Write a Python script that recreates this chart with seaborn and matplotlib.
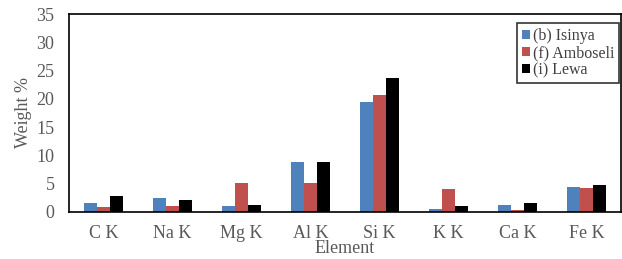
import matplotlib
matplotlib.use("Agg")
import matplotlib.pyplot as plt
import seaborn as sns
import pandas as pd
import numpy as np

elements = ["C K", "Na K", "Mg K", "Al K", "Si K", "K K", "Ca K", "Fe K"]
isinya = [1.6, 2.4, 1.0, 8.9, 19.4, 0.6, 1.2, 4.4]
amboseli = [0.9, 1.0, 5.1, 5.1, 20.6, 4.0, 0.3, 4.2]
lewa = [2.9, 2.2, 1.2, 8.9, 23.7, 1.0, 1.6, 4.7]
series = ["(b) Isinya", "(f) Amboseli", "(i) Lewa"]
colors = ["#4F81BD", "#C0504D", "#000000"]

df = pd.DataFrame({
    "Element": elements * 3,
    "Weight": isinya + amboseli + lewa,
    "Site": [series[0]] * 8 + [series[1]] * 8 + [series[2]] * 8,
})

sns.set_style("white")
plt.rcParams["font.family"] = ["Liberation Serif", "DejaVu Serif"]

fs = 13
fig = plt.figure(figsize=(6.22, 2.59), dpi=100)
ax = fig.add_axes([69/622, 47/259, 552/622, 198/259])
sns.barplot(data=df, x="Element", y="Weight", hue="Site", palette=colors,
            width=0.57, ax=ax, saturation=1, edgecolor="none", linewidth=0)

ax.set_xlim(-0.5, 7.5)
ax.set_ylim(0, 35)
ax.set_yticks(np.arange(0, 36, 5))
ax.set_xticks(np.arange(-0.5, 8, 1), minor=True)
ax.tick_params(axis="x", which="major", length=0, labelsize=fs, labelcolor="#595959", pad=9)
ax.tick_params(axis="x", which="minor", length=3.5, width=1, color="black", direction="out")
ax.tick_params(axis="y", length=4.5, width=1, color="black", direction="out", labelsize=fs,
               labelcolor="#595959", pad=6)
ax.set_xlabel("Element", fontsize=fs, color="#595959", labelpad=-1)
ax.set_ylabel("Weight %", fontsize=fs, color="#595959", labelpad=3)
for s in ["left", "bottom", "top", "right"]:
    ax.spines[s].set_color("black")
    ax.spines[s].set_linewidth(1.2)

leg = ax.legend(loc="upper right", bbox_to_anchor=(0.9964, 0.9545), fontsize=11.5,
                frameon=True, fancybox=False, edgecolor="black", handlelength=0.5,
                handleheight=0.5, handletextpad=0.2, borderpad=0.3, labelspacing=0.08,
                borderaxespad=0)
leg.get_frame().set_linewidth(1.2)
for t in leg.get_texts():
    t.set_color("#404040")

fig.savefig("out.png", dpi=100)
